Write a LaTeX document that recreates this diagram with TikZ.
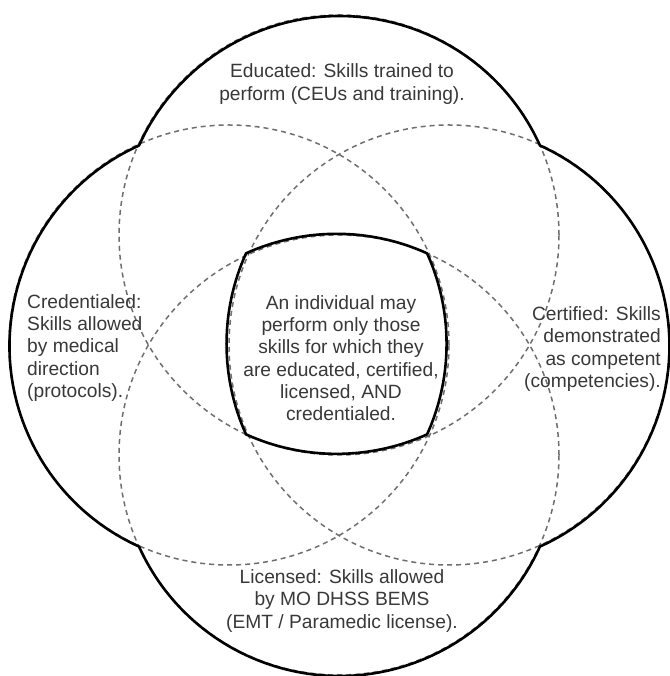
\documentclass[tikz,border=0pt]{standalone}
\usepackage{fontspec}
\setmainfont{Liberation Sans}
\definecolor{vnink}{HTML}{383838}
\definecolor{vndash}{HTML}{6E6E6E}

\begin{document}
\begin{tikzpicture}[x=1pt,y=1pt,
      ring/.style={circle,draw=vndash,line width=1.5pt,dash pattern=on 5pt off 4pt,
        minimum size=440pt,inner sep=0pt,outer sep=0pt},
      rim/.style={draw=black,line width=2.6pt,line join=round},
      lbl/.style={text=vnink,inner sep=0pt,font=\fontsize{19.2}{22.3}\selectfont}]
    \useasboundingbox (0,0) rectangle (669,676);
    % four dashed circles
    \node[ring] (edu)  at (339,441) {};
    \node[ring] (cred) at (229,331) {};
    \node[ring] (cert) at (449,331) {};
    \node[ring] (lic)  at (339,221) {};
    % outer outline
    \draw[rim] (edu.24.3) arc[start angle=24.3,end angle=155.7,radius=220pt]
      arc[start angle=114.3,end angle=245.7,radius=220pt]
      arc[start angle=204.3,end angle=335.7,radius=220pt]
      arc[start angle=-65.7,end angle=65.7,radius=220pt] -- cycle;
    % overlap of all four
    \draw[rim] (edu.245.7) arc[start angle=245.7,end angle=294.3,radius=220pt]
      arc[start angle=-24.3,end angle=24.3,radius=220pt]
      arc[start angle=65.7,end angle=114.3,radius=220pt]
      arc[start angle=155.7,end angle=204.3,radius=220pt] -- cycle;
    \node[lbl,align=center] (edutxt) at (342,592) {Educated: Skills trained to\\perform (CEUs and training).};
    \node[lbl,align=left,anchor=west] (credtxt) at (27,328) {Credentialed:\\Skills allowed\\by medical\\direction\\(protocols).};
    \node[lbl,align=right,anchor=east] (certtxt) at (661,327) {Certified: Skills\\demonstrated\\as competent\\(competencies).};
    \node[lbl,align=center] (coretxt) at (341,318) {An individual may\\perform only those\\skills for which they\\are educated, certified,\\licensed, AND\\credentialed.};
    \node[lbl,align=center] (lictxt) at (342,75) {Licensed: Skills allowed\\by MO DHSS BEMS\\(EMT / Paramedic license).};
  \end{tikzpicture}
\end{document}
